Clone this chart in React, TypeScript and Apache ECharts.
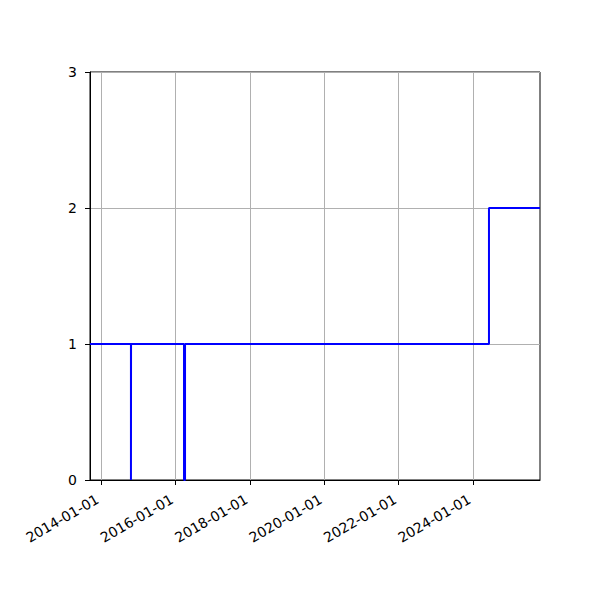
import React, { useRef, useEffect } from 'react';
import * as echarts from 'echarts';

// change points of the step line (value holds until next point)
const stepDates = [
    '2013-09-15',
    '2014-10-22',
    '2014-10-23',
    '2016-03-26',
    '2016-04-05',
    '2024-06-06',
    '2025-10-20'
];
const stepValues = [1, 0, 1, 0, 1, 2, 2];

const xTickDates = ['2014-01-01', '2016-01-01', '2018-01-01', '2020-01-01', '2022-01-01', '2024-01-01'];
const yTicks = [0, 1, 2, 3];

const ts = (d: string) => new Date(d + 'T00:00:00Z').getTime();

const pad = (n: number) => (n < 10 ? '0' + n : '' + n);
const fmtDate = (v: number) => {
    const d = new Date(v);
    return d.getUTCFullYear() + '-' + pad(d.getUTCMonth() + 1) + '-' + pad(d.getUTCDate());
};

const App: React.FC = () => {
    const chartRef = useRef<HTMLDivElement>(null);

    useEffect(() => {
        if (!chartRef.current) return;
        const chart = echarts.init(chartRef.current, null, { renderer: 'svg' });

        const tickValues = xTickDates.map(ts);
        const font = 'DejaVu Sans';

        // timestamps on a linear value axis, so ticks can sit on exact dates
        const option: echarts.EChartsOption = {
            animation: false,
            backgroundColor: '#ffffff',
            textStyle: { fontFamily: font },
            grid: {
                left: 90,
                right: 60,
                top: 72,
                bottom: 120,
                show: true,
                borderColor: '#000000',
                borderWidth: 1,
                backgroundColor: 'transparent'
            },
            xAxis: {
                type: 'value',
                min: ts(stepDates[0]),
                max: ts(stepDates[stepDates.length - 1]),
                axisLine: { show: true, onZero: false, lineStyle: { color: '#000000', width: 1 } },
                axisTick: {
                    show: true,
                    length: 5,
                    lineStyle: { color: '#000000' },
                    customValues: tickValues
                } as any,
                splitLine: { show: true, lineStyle: { color: '#b0b0b0', width: 1 } },
                axisLabel: {
                    customValues: tickValues,
                    rotate: 30,
                    margin: 16,
                    padding: [0, 4, 0, 0],
                    color: '#000000',
                    fontFamily: font,
                    fontSize: 14,
                    formatter: (v: number) => fmtDate(v)
                } as any
            },
            yAxis: {
                type: 'value',
                min: 0,
                max: yTicks[yTicks.length - 1],
                interval: 1,
                axisLine: { show: true, lineStyle: { color: '#000000', width: 1 } },
                axisTick: { show: true, length: 5, lineStyle: { color: '#000000' } },
                splitLine: { show: true, lineStyle: { color: '#b0b0b0', width: 1 } },
                axisLabel: {
                    margin: 13,
                    color: '#000000',
                    fontFamily: font,
                    fontSize: 14
                }
            },
            series: [
                {
                    type: 'line',
                    step: 'end',
                    data: stepDates.map((d, i) => [ts(d), stepValues[i]]),
                    showSymbol: false,
                    lineStyle: { color: '#0000ff', width: 2 },
                    itemStyle: { color: '#0000ff' }
                }
            ]
        };

        chart.setOption(option);

        return () => {
            chart.dispose();
        };
    }, []);

    return (
        <div
            ref={chartRef}
            style={{ position: 'absolute', left: 0, top: 0, width: 600, height: 600 }}
        />
    );
};

export default App;
